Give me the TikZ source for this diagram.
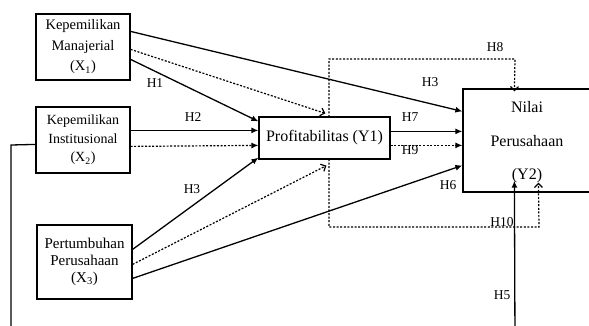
\documentclass[tikz,border=0pt]{standalone}
\usepackage{fontspec}
\setmainfont{Liberation Serif}
\usetikzlibrary{arrows.meta,calc}
\begin{document}
\begin{tikzpicture}[x=1pt,y=-1pt,
  varbox/.style={draw,line width=1.2pt,fill=white,inner sep=0pt,align=center},
  solidarr/.style={line width=1.3pt,-{Latex[length=7pt,width=6pt]}},
  dotarr/.style={line width=1.2pt,dash pattern=on 2pt off 1.6pt,-{Latex[length=7pt,width=6pt]}},
  openarr/.style={line width=1.2pt,dash pattern=on 2pt off 1.6pt,-{Straight Barb[length=4pt,width=8pt]}},
  hlab/.style={font=\fontsize{13.5}{13.5}\selectfont,inner sep=0pt}]
\clip (0,0) rectangle (589,325);
\fill[white] (0,0) rectangle (589,325);

% dashed frame around the mediator (drawn first, hidden by the box)
\coordinate (ftop) at (329,59);
\coordinate (fbot) at (329,227);

% variable boxes
\node[varbox,minimum width=94pt,minimum height=66pt,
      font=\fontsize{14.5}{20.5}\selectfont] (X1) at (83,47)
  {Kepemilikan\\Manajerial\\(X\textsubscript{1})};
\node[varbox,minimum width=94pt,minimum height=66pt,
      font=\fontsize{14}{18.5}\selectfont] (X2) at (83,140)
  {Kepemilikan\\Institusional\\(X\textsubscript{2})};
\node[varbox,minimum width=95pt,minimum height=74pt,
      font=\fontsize{15}{17}\selectfont] (X3) at (84.5,262)
  {Pertumbuhan\\Perusahaan\\(X\textsubscript{3})};
\node[varbox,minimum width=137pt,minimum height=103pt] (Y2) at (531.5,140.5) {};
\node[font=\fontsize{16}{16}\selectfont] at (527,107) {Nilai};
\node[font=\fontsize{16}{16}\selectfont] at (527,141) {Perusahaan};
\node[font=\fontsize{16}{16}\selectfont] at (527,176) {(Y2)};

% dashed paths H8 and H10 leave from the mediator box
\coordinate (y1t) at (329,117);
\coordinate (y1b) at (329,159);
\draw[openarr] (y1t) -- (ftop) -- (515,59) -- ($(Y2.north west)+(52,3)$);
\draw[openarr] (y1b) -- (fbot) -- (539,227) -- ($(Y2.south west)+(76,-10)$);

\node[varbox,minimum width=131pt,minimum height=42pt,
      font=\fontsize{16}{16}\selectfont] (Y1) at (324.5,138) {Profitabilitas (Y1)};

% paths from X1
\draw[solidarr] ($(X1.north east)+(0,18)$) -- ($(Y2.north west)+(0,23)$);
\draw[openarr]  ($(X1.north east)+(0,36)$) -- ($(Y1.north west)+(67,-3)$);
\draw[solidarr] ($(X1.north east)+(0,46)$) -- ($(Y1.north west)+(0,5)$);

% paths from X2
\draw[solidarr] ($(X2.north east)+(0,24)$) -- ($(Y1.north west)+(0,14)$);
\draw[dotarr]   ($(X2.north east)+(0,40)$) -- ($(Y1.north west)+(0,29)$);

% paths from X3
\draw[solidarr] ($(X3.north east)+(0,25)$) -- ($(Y1.south west)+(0,-2)$);
\draw[openarr]  ($(X3.north east)+(0,40)$) -- ($(Y1.south west)+(68,6)$);
\draw[solidarr] ($(X3.north east)+(0,54)$) -- ($(Y2.north west)+(0,77)$);

% mediator to Y2
\draw[solidarr] ($(Y1.north east)+(0,15)$) -- ($(Y2.north west)+(0,43)$);
\draw[dotarr]   ($(Y1.north east)+(0,29)$) -- ($(Y2.north west)+(0,57)$);

% H5: from X2 round the bottom into Y2
\draw[solidarr] ($(X2.north west)+(0,38)$) -- (11,145) -- (11,345) -- (515,345)
  -- ($(Y2.south west)+(52,-12)$);

% hypothesis labels
\node[hlab] at (155,83) {H1};
\node[hlab] at (193,117) {H2};
\node[hlab] at (192,189) {H3};
\node[hlab] at (430,82) {H3};
\node[hlab] at (410,117) {H7};
\node[hlab] at (410,150) {H9};
\node[hlab] at (448,185) {H6};
\node[hlab] at (495,47) {H8};
\node[hlab] at (502,222) {H10};
\node[hlab] at (502,295) {H5};
\end{tikzpicture}
\end{document}
